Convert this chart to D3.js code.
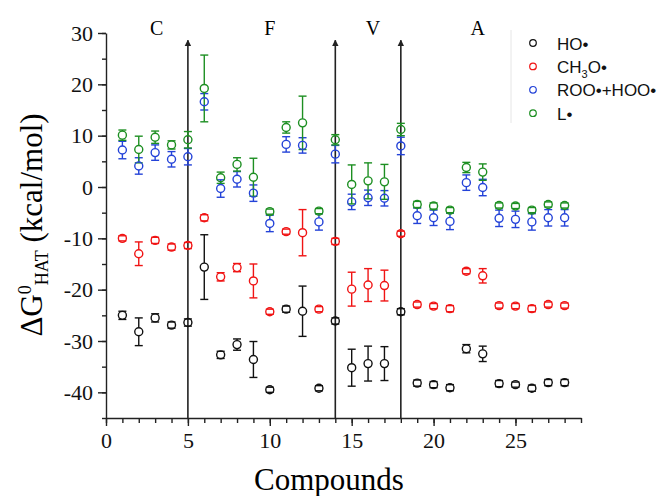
<!DOCTYPE html>
<html>
<head>
<meta charset="utf-8">
<script src="https://cdn.jsdelivr.net/npm/d3@7"></script>
<style>
  body { margin: 0; background: #fff; }
  svg { display: block; }
  .axis path, .axis line { stroke: #222; stroke-width: 1.4; }
  .axis text { font-family: "Liberation Serif", "Times New Roman", serif; font-size: 22px; fill: #111; }
</style>
</head>
<body>
<div id="chart"></div>
<script>
// compound index on the x axis
var compounds = [1, 2, 3, 4, 5, 6, 7, 8, 9, 10, 11, 12, 13, 14, 15, 16, 17, 18, 19, 20, 21, 22, 23, 24, 25, 26, 27, 28];

// ΔG0 HAT values (kcal/mol) per radical, with error half-widths
var hoValues = [-25.0, -28.2, -25.5, -26.9, -26.4, -15.6, -32.7, -30.7, -33.6, -39.5, -23.8, -24.2, -39.2, -26.1, -35.2, -34.4, -34.4, -24.3, -38.2, -38.5, -39.1, -31.5, -32.5, -38.3, -38.5, -39.2, -38.1, -38.1];
var hoErrors = [0.8, 2.7, 0.8, 0.6, 0.7, 6.3, 0.7, 1.1, 3.5, 0.5, 0.6, 4.9, 0.5, 0.6, 3.6, 3.4, 3.3, 0.6, 0.6, 0.6, 0.6, 0.8, 1.5, 0.6, 0.5, 0.6, 0.6, 0.6];

var ch3oValues = [-10.0, -13.0, -10.4, -11.7, -11.4, -6.0, -17.5, -15.7, -18.3, -24.3, -8.7, -8.9, -23.8, -10.6, -19.9, -19.1, -19.2, -9.1, -22.9, -23.2, -23.7, -16.4, -17.3, -23.1, -23.2, -23.7, -22.9, -23.1];
var ch3oErrors = [0.5, 2.3, 0.6, 0.6, 0.6, 0.6, 0.8, 0.8, 3.3, 0.5, 0.5, 4.5, 0.5, 0.6, 3.3, 3.2, 3.0, 0.5, 0.5, 0.5, 0.6, 0.5, 1.4, 0.5, 0.5, 0.6, 0.5, 0.5];

var rooValues = [7.2, 4.1, 6.7, 5.4, 5.9, 16.6, -0.3, 1.5, -1.2, -7.1, 8.3, 8.1, -6.8, 6.4, -2.9, -2.1, -2.2, 8.0, -5.6, -6.0, -6.7, 0.85, -0.1, -6.1, -6.3, -6.8, -6.0, -6.0];
var rooErrors = [1.7, 1.6, 1.5, 1.5, 1.6, 1.6, 1.7, 1.5, 1.6, 1.6, 1.5, 1.5, 1.6, 1.7, 1.5, 1.5, 1.5, 1.7, 1.5, 1.5, 1.6, 1.5, 1.6, 1.6, 1.6, 1.6, 1.6, 1.6];

var lValues = [10.1, 7.3, 9.7, 8.2, 9.2, 19.2, 1.8, 4.4, 1.9, -4.8, 11.6, 12.5, -4.7, 9.2, 0.5, 1.2, 1.0, 11.2, -3.4, -3.7, -4.5, 3.8, 2.9, -3.6, -3.7, -4.5, -3.4, -3.6];
var lErrors = [1.0, 2.6, 1.2, 0.8, 1.6, 6.5, 1.1, 1.3, 3.7, 0.5, 1.1, 5.2, 0.5, 1.0, 3.8, 3.5, 3.4, 1.2, 0.6, 0.6, 0.5, 1.0, 1.6, 0.5, 0.5, 0.5, 0.5, 0.5];

var seriesNames = ['HO\u2022', 'CH3O\u2022', 'ROO\u2022+HOO\u2022', 'L\u2022'];
var seriesColors = ['#111111', '#f01414', '#2443d8', '#1d8f22'];

// group separators (arrows) and group letters
var arrowPositions = [5, 14, 18];
var arrowTop = 28.6;
var groupLabels = ['C', 'F', 'V', 'A'];
var groupLabelPositions = [3.1, 10.0, 16.3, 22.7];

// axis ticks
var xMajorTicks = [0, 5, 10, 15, 20, 25];
var yMajorTicks = [-40, -30, -20, -10, 0, 10, 20, 30];

var width = 661, height = 496;
var margin = { left: 106, right: 80, top: 33, bottom: 78 };

var svg = d3.select('#chart').append('svg')
  .attr('width', width)
  .attr('height', height);

var xScale = d3.scaleLinear().domain([0, 29]).range([margin.left, width - margin.right]);
var yScale = d3.scaleLinear().domain([-45, 30]).range([height - margin.bottom, margin.top]);

// x axis: major ticks with labels, minor every compound
svg.append('g')
  .attr('class', 'axis')
  .attr('transform', `translate(0,${yScale(-45)})`)
  .call(d3.axisBottom(xScale).tickValues(d3.range(0, 30)).tickSize(5).tickFormat('').tickSizeOuter(0));
svg.append('g')
  .attr('class', 'axis')
  .attr('transform', `translate(0,${yScale(-45)})`)
  .call(d3.axisBottom(xScale).tickValues(xMajorTicks).tickSize(8).tickPadding(6).tickSizeOuter(0))
  .call((g) => g.select('.domain').remove());

// y axis
svg.append('g')
  .attr('class', 'axis')
  .attr('transform', `translate(${xScale(0)},0)`)
  .call(d3.axisLeft(yScale).tickValues(d3.range(-45, 31, 5)).tickSize(4).tickFormat('').tickSizeOuter(0));
svg.append('g')
  .attr('class', 'axis')
  .attr('transform', `translate(${xScale(0)},0)`)
  .call(d3.axisLeft(yScale).tickValues(yMajorTicks).tickSize(8).tickPadding(5).tickFormat(d3.format('d')).tickSizeOuter(0))
  .call((g) => g.select('.domain').remove());
svg.selectAll('.axis text').text(function () { return this.textContent.replace('\u2212', '-'); });

// axis titles
svg.append('text')
  .attr('x', 329)
  .attr('y', 490)
  .attr('text-anchor', 'middle')
  .style('font-family', '"Liberation Serif", "Times New Roman", serif')
  .style('font-size', '31px')
  .text('Compounds');

var yTitle = svg.append('text')
  .attr('transform', 'translate(42,225) rotate(-90)')
  .attr('text-anchor', 'middle')
  .style('font-family', '"Liberation Serif", "Times New Roman", serif')
  .style('font-size', '31px');
yTitle.append('tspan').text('\u0394G');
yTitle.append('tspan').attr('dy', -11).style('font-size', '18px').text('0');
yTitle.append('tspan').attr('dy', 17).style('font-size', '18px').text('HAT');
yTitle.append('tspan').attr('dy', -6).text(' (kcal/mol)');

// arrows separating the compound families
var defs = svg.append('defs');
defs.append('marker')
  .attr('id', 'arrowhead')
  .attr('viewBox', '0 0 10 10')
  .attr('refX', 9)
  .attr('refY', 5)
  .attr('markerWidth', 4)
  .attr('markerHeight', 7)
  .attr('orient', 'auto')
  .append('path')
  .attr('d', 'M0,0 L10,5 L0,10 Z')
  .attr('fill', '#222');

svg.append('g').selectAll('line')
  .data(arrowPositions)
  .join('line')
  .attr('x1', (d) => xScale(d))
  .attr('x2', (d) => xScale(d))
  .attr('y1', yScale(-45))
  .attr('y2', yScale(arrowTop))
  .attr('stroke', '#222')
  .attr('stroke-width', 1.6)
  .attr('marker-end', 'url(#arrowhead)');

svg.append('g').selectAll('text')
  .data(groupLabels)
  .join('text')
  .attr('x', (d, i) => xScale(groupLabelPositions[i]))
  .attr('y', 35)
  .attr('text-anchor', 'middle')
  .style('font-family', '"Liberation Serif", "Times New Roman", serif')
  .style('font-size', '20px')
  .text((d) => d);

// build point records for each series
var seriesValues = [hoValues, ch3oValues, rooValues, lValues];
var seriesErrors = [hoErrors, ch3oErrors, rooErrors, lErrors];
var radius = 4;
var capHalf = 4;

var points = [];
seriesValues.forEach(function (values, s) {
  values.forEach(function (v, i) {
    points.push({ series: s, x: compounds[i], value: v, err: seriesErrors[s][i] });
  });
});

// error bars: line from symbol edge to the caps, caps always drawn
var errG = svg.append('g').attr('class', 'errors');
points.forEach(function (p) {
  var cx = xScale(p.x);
  var cy = yScale(p.value);
  var top = yScale(p.value + p.err);
  var bottom = yScale(p.value - p.err);
  var color = seriesColors[p.series];
  var g = errG.append('g').attr('stroke', color).attr('stroke-width', 1.4);
  if (cy - top > radius) {
    g.append('line').attr('x1', cx).attr('x2', cx).attr('y1', top).attr('y2', cy - radius);
    g.append('line').attr('x1', cx).attr('x2', cx).attr('y1', cy + radius).attr('y2', bottom);
  }
  g.append('line').attr('x1', cx - capHalf).attr('x2', cx + capHalf).attr('y1', top).attr('y2', top);
  g.append('line').attr('x1', cx - capHalf).attr('x2', cx + capHalf).attr('y1', bottom).attr('y2', bottom);
});

svg.append('g').attr('class', 'symbols')
  .selectAll('circle')
  .data(points)
  .join('circle')
  .attr('cx', (d) => xScale(d.x))
  .attr('cy', (d) => yScale(d.value))
  .attr('r', radius)
  .attr('fill', 'none')
  .attr('stroke', (d) => seriesColors[d.series])
  .attr('stroke-width', 1.4);

// legend (only a faint left border is visible in the original)
var legend = svg.append('g').attr('transform', 'translate(511,30)');
legend.append('line')
  .attr('x1', 0)
  .attr('x2', 0)
  .attr('y1', 0)
  .attr('y2', 93)
  .attr('stroke', '#e6e6e6');
var rows = legend.selectAll('g.row')
  .data(seriesNames)
  .join('g')
  .attr('class', 'row')
  .attr('transform', (d, i) => `translate(0,${13 + i * 23.4})`);
rows.append('circle')
  .attr('cx', 22)
  .attr('r', 3.3)
  .attr('fill', 'none')
  .attr('stroke', (d, i) => seriesColors[i])
  .attr('stroke-width', 1.2);
var legendText = rows.append('text')
  .attr('x', 46)
  .attr('y', 6.5)
  .style('font-family', '"Liberation Sans", Arial, sans-serif')
  .style('font-size', '17px')
  .attr('fill', '#111');
legendText.each(function (d) {
  var t = d3.select(this);
  if (d.indexOf('CH3O') === 0) {
    t.append('tspan').text('CH');
    t.append('tspan').attr('dy', 5).style('font-size', '11px').text('3');
    t.append('tspan').attr('dy', -5).text('O\u2022');
  } else {
    t.text(d);
  }
});
</script>
</body>
</html>
